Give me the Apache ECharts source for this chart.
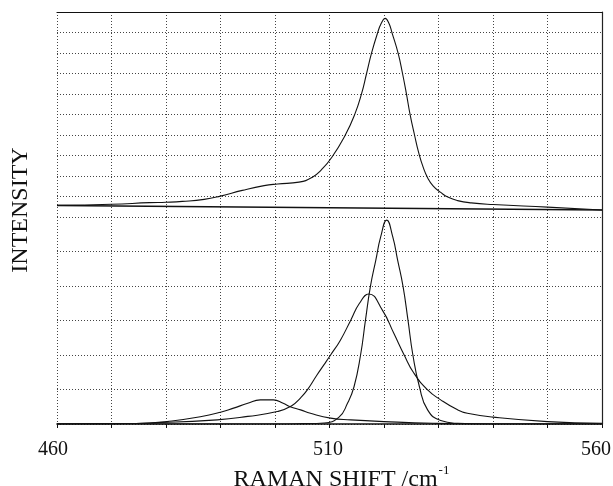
<!DOCTYPE html>
<html>
<head>
<meta charset="utf-8">
<script src="https://cdn.jsdelivr.net/npm/echarts@6/dist/echarts.min.js"></script>
<style>
html,body{margin:0;padding:0;background:#fff;}
#chart{width:613px;height:486px;}
</style>
</head>
<body>
<div id="chart"></div>
<script>
// Upper panel: measured spectrum
var topShift     = [460, 470, 477, 480, 483, 487, 490, 494, 498, 500.5, 504.4, 506.8, 508.5, 510.4, 512.9, 514.6, 515.9, 516.8, 517.7, 518.8, 519.5, 520.2, 520.9, 521.5, 522.6, 523.4, 524.1, 524.8, 525.6, 526.4, 527.2, 528, 529, 530.4, 531.8, 533.5, 536, 540, 550, 560];
var topIntensity = [0.57, 0.62, 0.70, 0.72, 0.76, 0.86, 1.02, 1.30, 1.53, 1.61, 1.70, 1.93, 2.30, 2.90, 4.0, 4.98, 6.03, 7.0, 7.98, 8.96, 9.45, 9.69, 9.45, 8.96, 7.98, 7.0, 6.03, 4.98, 4.0, 3.1, 2.42, 1.92, 1.52, 1.20, 0.96, 0.80, 0.69, 0.61, 0.48, 0.34];
// Upper panel: straight baseline
var baseShift     = [460, 560];
var baseIntensity = [0.56, 0.34];

// Lower panel: fitted components
var sharpShift     = [460, 500, 505, 509, 511.7, 513.3, 514.5, 515.7, 516.6, 517.5, 518.5, 519.4, 520.5, 521.6, 522.5, 523.5, 524.4, 525.3, 526.5, 528, 530.4, 533.5, 539, 560];
var sharpIntensity = [0, 0, 0.01, 0.03, 0.19, 0.60, 1.08, 2.0, 3.01, 3.98, 4.75, 5.43, 5.91, 5.43, 4.75, 3.98, 3.01, 2.0, 1.08, 0.41, 0.10, 0.02, 0, 0];

var broadShift     = [460, 470, 477, 489.4, 495, 500.4, 503, 504.7, 505.9, 507.7, 509, 510.2, 512, 513.9, 515.5, 517.2, 519.7, 521.8, 523.7, 525.5, 528, 530.4, 533.5, 535.3, 540, 550, 560];
var broadIntensity = [0, 0.01, 0.03, 0.12, 0.22, 0.36, 0.52, 0.76, 0.98, 1.42, 1.72, 2.0, 2.43, 3.01, 3.5, 3.77, 3.30, 2.63, 2.0, 1.47, 0.99, 0.70, 0.41, 0.31, 0.2, 0.07, 0.02];

var smallShift     = [460, 470, 477, 480.2, 486.3, 490, 492.4, 495, 497.3, 499.7, 501.5, 502.8, 504.7, 506.5, 510.2, 513.9, 520, 529, 540, 560];
var smallIntensity = [0, 0.01, 0.03, 0.07, 0.21, 0.34, 0.46, 0.60, 0.70, 0.70, 0.60, 0.50, 0.41, 0.31, 0.17, 0.12, 0.07, 0.02, 0, 0];

var xLabels = [460, 510, 560];

function pairs(xs, ys) { return xs.map(function (x, i) { return [x, ys[i]]; }); }

var FONT = '"Liberation Serif", "DejaVu Serif", serif';
var gridDot = { show: true, lineStyle: { color: '#444', width: 1, type: [1, 2] } };

var chart = echarts.init(document.getElementById('chart'), null, { renderer: 'canvas' });

function curve(name, xi, data) {
  return {
    name: name, type: 'line', xAxisIndex: xi, yAxisIndex: xi * 2,
    data: data, smooth: 0.5, showSymbol: false, symbol: 'none',
    lineStyle: { color: '#111', width: 1.1 }, animation: false, z: 5
  };
}

var labelRich = {
  l: { fontFamily: FONT, fontSize: 20, color: '#111', padding: [0, 8, 0, 0] },
  m: { fontFamily: FONT, fontSize: 20, color: '#111', padding: [0, 3, 0, 0] },
  r: { fontFamily: FONT, fontSize: 20, color: '#111', padding: [0, 12, 0, 0] }
};
var labelKeys = ['l', 'm', 'r'];

chart.setOption({
  animation: false,
  backgroundColor: '#fff',
  grid: [
    { left: 57, right: 11, top: 12, height: 205, outerBoundsMode: 'none', containLabel: false },
    { left: 57, right: 11, top: 217, height: 207, outerBoundsMode: 'none', containLabel: false }
  ],
  xAxis: [
    { type: 'value', gridIndex: 0, min: 460, max: 560, interval: 10, position: 'top',
      axisLine: { show: true, onZero: false, lineStyle: { color: '#111', width: 1.2 } },
      axisTick: { show: false }, axisLabel: { show: false }, splitLine: gridDot },
    { type: 'value', gridIndex: 1, min: 460, max: 560, interval: 10, position: 'bottom',
      name: '{a|RAMAN SHIFT /cm}{s|-1}', nameLocation: 'middle', nameGap: 40,
      nameTextStyle: { padding: [0, 0, 0, 24], rich: {
        a: { fontFamily: FONT, fontSize: 24, color: '#111', lineHeight: 28, verticalAlign: 'bottom' },
        s: { fontFamily: FONT, fontSize: 13, color: '#111', lineHeight: 28, verticalAlign: 'top', padding: [0, 0, 0, 1] }
      } },
      axisLine: { show: true, onZero: false, lineStyle: { color: '#111', width: 1.6 } },
      axisTick: { show: true, length: 4, lineStyle: { color: '#111', width: 1 } },
      axisLabel: { show: true, margin: 16, fontFamily: FONT, fontSize: 20, color: '#111', rich: labelRich,
        formatter: function (v) { var i = xLabels.indexOf(v); return i >= 0 ? '{' + labelKeys[i] + '|' + v + '}' : ''; } },
      splitLine: gridDot }
  ],
  yAxis: [
    { type: 'value', gridIndex: 0, min: 0, max: 10, interval: 1,
      axisLine: { show: false }, axisTick: { show: false }, axisLabel: { show: false }, splitLine: gridDot },
    { type: 'value', gridIndex: 0, min: 0, max: 10, interval: 1, position: 'right',
      axisLine: { show: true, lineStyle: { color: '#222', width: 1.2 } }, axisTick: { show: false }, axisLabel: { show: false }, splitLine: { show: false } },
    { type: 'value', gridIndex: 1, min: 0, max: 6, interval: 1,
      axisLine: { show: false }, axisTick: { show: false }, axisLabel: { show: false }, splitLine: gridDot },
    { type: 'value', gridIndex: 1, min: 0, max: 6, interval: 1, position: 'right',
      axisLine: { show: true, lineStyle: { color: '#222', width: 1.2 } }, axisTick: { show: false }, axisLabel: { show: false }, splitLine: { show: false } }
  ],
  graphic: [
    { type: 'text', x: 20.5, y: 210, rotation: Math.PI / 2,
      style: { text: 'INTENSITY', font: '24px ' + FONT, fill: '#111', align: 'center', verticalAlign: 'middle' } }
  ],
  series: [
    curve('spectrum', 0, pairs(topShift, topIntensity)),
    Object.assign(curve('baseline', 0, pairs(baseShift, baseIntensity)), { smooth: false, lineStyle: { color: '#111', width: 1.4 } }),
    curve('sharp', 1, pairs(sharpShift, sharpIntensity)),
    curve('broad', 1, pairs(broadShift, broadIntensity)),
    curve('small', 1, pairs(smallShift, smallIntensity))
  ]
});
</script>
</body>
</html>
